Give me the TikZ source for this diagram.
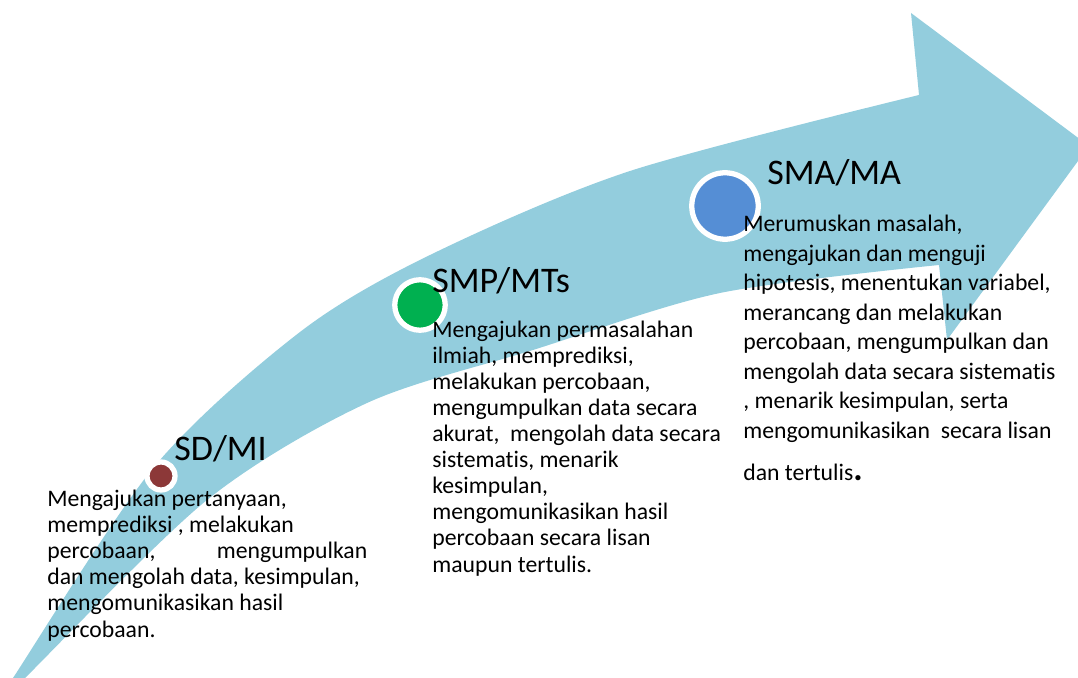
\documentclass[tikz,border=0pt]{standalone}
\usepackage{fontspec}
\setmainfont{Carlito}[Ligatures={NoCommon,NoContextual}]
\usepackage{xcolor}
\definecolor{panahbiru}{RGB}{147,205,221}
\definecolor{merahtua}{RGB}{140,56,56}
\definecolor{hijau}{RGB}{0,176,80}
\definecolor{birutua}{RGB}{85,142,213}

\begin{document}
\begin{tikzpicture}[
  x=0.02cm, y=-0.02cm,
  judul/.style={anchor=base west, inner sep=0pt, font=\fontsize{20.5}{24}\selectfont},
  isi/.style={anchor=base west, inner sep=0pt, align=left, font=\fontsize{13.5}{#1}\selectfont},
  isi/.default=14.8,
  titik/.style={circle, draw=white, line width=3pt, inner sep=0pt, fill=#1}
]
\path[use as bounding box] (0,0) rectangle (1078,678);
\clip (0,0) rectangle (1078,678);
% Panah melengkung
\fill[panahbiru] plot[smooth] coordinates {(6,690) (13,678) (154,467) (300,332) (430,255) (630,171) (919,95)}
  -- (911,13) -- (1089,146) -- (947,340)
  -- plot[smooth] coordinates {(939,265) (720,293) (533,350) (367,403) (207,500) (25,678) (13,690)} -- cycle;
% Jenjang SD/MI (titik acuan: baris terakhir)
\node[titik=merahtua, minimum size=0.56cm] (sdtitik) at (161,476) {};
\node[judul] (sd) at (174,460) {SD/MI};
\node[isi] (sdisi) at (47,637) {Mengajukan pertanyaan,\\
memprediksi , melakukan\\
\makebox[6.4cm][l]{percobaan,\hfill mengumpulkan}\\
dan mengolah data, kesimpulan,\\
mengomunikasikan hasil\\
percobaan.};
% Jenjang SMP/MTs
\node[titik=hijau, minimum size=1.01cm] (smptitik) at (420,305) {};
\node[judul] (smp) at (432,293) {SMP/MTs};
\node[isi] (smpisi) at (432,572) {Mengajukan permasalahan\\
ilmiah, memprediksi,\\
melakukan percobaan,\\
mengumpulkan data secara\\
akurat, \ mengolah data secara\\
sistematis, menarik\\
kesimpulan,\\
mengomunikasikan hasil\\
percobaan secara lisan\\
maupun tertulis.};
% Jenjang SMA/MA
\node[titik=birutua, minimum size=1.33cm] (smatitik) at (725,206) {};
\node[judul] (sma) at (767,185) {SMA/MA};
\node[isi=16.8] (smaisi) at (743,480) {Merumuskan masalah,\\
mengajukan dan menguji\\
hipotesis, menentukan variabel,\\
merancang dan melakukan\\
percobaan, mengumpulkan dan\\
mengolah data secara sistematis\\
, menarik kesimpulan, serta\\
mengomunikasikan \ secara lisan\\[7pt]
dan tertulis{\fontsize{20}{20}\selectfont\textbf{.}}};
\end{tikzpicture}
\end{document}
